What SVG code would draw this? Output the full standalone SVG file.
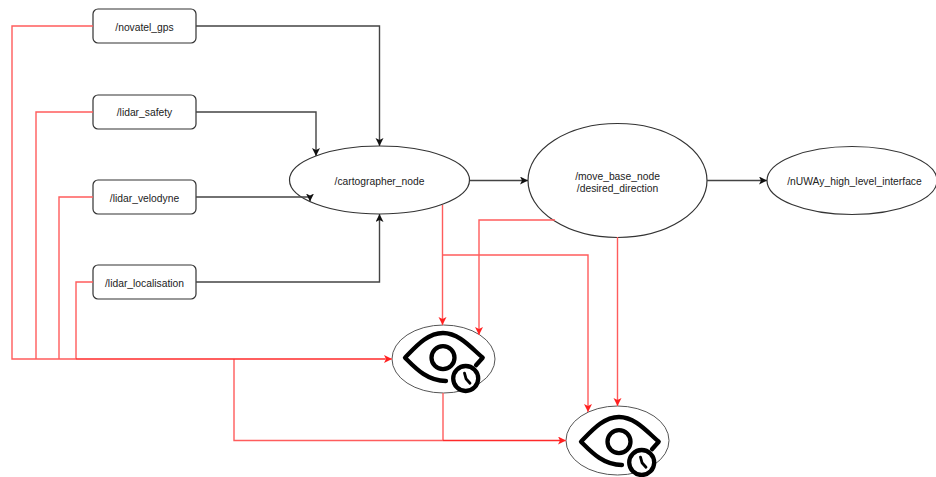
<svg xmlns="http://www.w3.org/2000/svg" width="936" height="477" viewBox="0 0 936 477">
<defs>
<style>
text{font-family:"Liberation Sans",Arial,sans-serif;font-size:10.3px;fill:#222;text-anchor:middle}
.n{fill:#fff;stroke:#333;stroke-width:1.2}
.e{fill:#fff;stroke:#555;stroke-width:1}
.k{fill:none;stroke:#444;stroke-width:1.4;marker-end:url(#ka)}
.r{fill:none;stroke:#ff5c5c;stroke-width:1.4}
.ra{fill:none;stroke:#ff5c5c;stroke-width:1.4;marker-end:url(#ra)}
.h{fill:none;stroke:#ff2a2a;stroke-width:1.4}
.i{fill:none;stroke:#000;stroke-width:4.3;stroke-linecap:round;stroke-linejoin:round}
</style>
<marker id="ka" markerUnits="userSpaceOnUse" markerWidth="10" markerHeight="10" refX="8" refY="4" orient="auto"><path d="M0 0L8 4L0 8L2 4Z" fill="#111"/></marker>
<marker id="ra" markerUnits="userSpaceOnUse" markerWidth="10" markerHeight="10" refX="8" refY="4" orient="auto"><path d="M0 0L8 4L0 8L2 4Z" fill="#ff2020"/></marker>
<g id="eye">
<path class="i" d="M33 7.500L39.700 0C28 -10 16 -24.700 0 -24.700C-16 -24.700 -28 -10 -38 0C-28 10 -16 23.300 3 23.300"/>
<circle class="i" cx="0" cy="0" r="11.500"/>
<circle cx="22.700" cy="20.800" r="12.500" fill="#fff" stroke="#000" stroke-width="4.300"/>
<path class="i" style="stroke-width:2.800" d="M21.500 15.500L23 21L27 25.500"/>
</g>
</defs>
<rect width="936" height="477" fill="#fff"/>
<g id="novatel_gps"><rect class="n" x="93" y="9" width="103" height="34" rx="5"/><text x="144.500" y="30.500">/novatel_gps</text></g>
<g id="lidar_safety"><rect class="n" x="93" y="95" width="103" height="34" rx="5"/><text x="144.500" y="116">/lidar_safety</text></g>
<g id="lidar_velodyne"><rect class="n" x="93" y="180" width="103" height="34" rx="5"/><text x="144.500" y="201.500">/lidar_velodyne</text></g>
<g id="lidar_localisation"><rect class="n" x="93" y="265" width="103" height="34" rx="5"/><text x="144.500" y="287">/lidar_localisation</text></g>
<g id="cartographer_node"><ellipse class="n" cx="379.500" cy="180" rx="90" ry="34"/><text x="379.500" y="185">/cartographer_node</text></g>
<g id="move_base_node"><ellipse class="n" cx="617.500" cy="180.500" rx="89.500" ry="57"/><text x="617.500" y="180">/move_base_node</text><text x="617.500" y="192">/desired_direction</text></g>
<g id="high_level_interface"><ellipse class="n" cx="852" cy="180.500" rx="85" ry="34"/><text x="854.500" y="185">/nUWAy_high_level_interface</text></g>
<g id="monitor_1"><ellipse class="e" cx="443.500" cy="359" rx="51.500" ry="34"/><use href="#eye" x="443" y="357.700"/></g>
<g id="monitor_2"><ellipse class="e" cx="617.500" cy="440.500" rx="51.500" ry="34.500"/><use href="#eye" x="619" y="441.700"/></g>
<g id="connectors">
<path class="k" d="M196 26H379.500V146"/>
<path class="k" d="M196 112H316V156"/>
<path class="k" d="M196 197H310V201.500"/>
<path class="k" d="M196 282H379.500V214"/>
<path class="k" d="M469.500 180.500H528"/>
<path class="k" d="M707 180.500H767"/>
<path class="r" d="M93 26H12V359H76"/>
<path class="r" d="M93 112H36V359"/>
<path class="r" d="M93 197H59V359"/>
<path class="r" d="M93 282H76V359"/>
<path class="r" d="M234 359V440.500H443"/>
<path class="r" d="M443 393V440.500"/>
<path class="h" d="M76 359H385"/>
<path class="h" d="M443 440.500H560"/>
<path class="ra" d="M385 359H392"/>
<path class="ra" d="M560 440.500H566"/>
<path class="ra" d="M442.500 205V325"/>
<path class="ra" d="M555 220H479V335"/>
<path class="ra" d="M442.500 255H588V412"/>
<path class="ra" d="M617.500 237V406"/>
</g>
</svg>
